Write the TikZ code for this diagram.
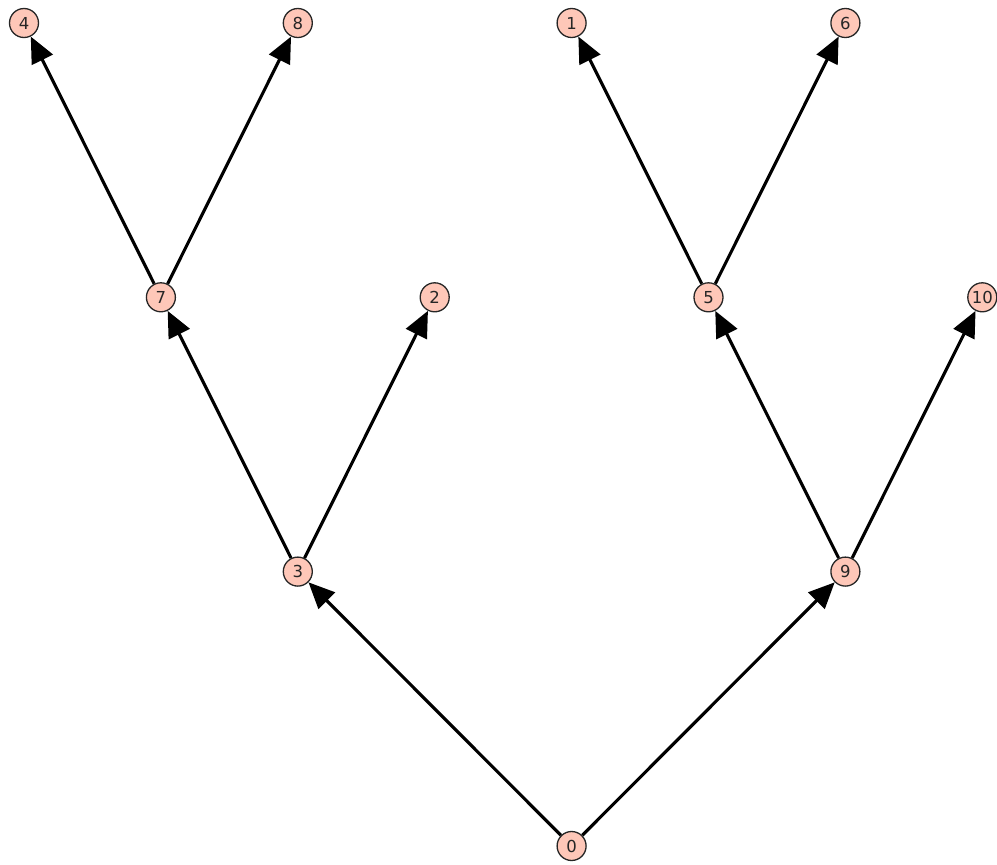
\documentclass[tikz,border=0pt]{standalone}
\usepackage{fontspec}
\setmainfont{DejaVu Sans}
\usetikzlibrary{arrows.meta}
\definecolor{vfill}{HTML}{FEC7B8}
\begin{document}
\begin{tikzpicture}[x=1pt,y=-1pt,
  vtx/.style={circle,draw=black!85,line width=1.3pt,fill=vfill,minimum size=29pt,inner sep=0pt,font=\fontsize{16.5}{16.5}\selectfont,text=black!85},
  edge/.style={line width=3.1pt,-{Triangle[length=26pt,width=23pt]}}]
\useasboundingbox (0,0) rectangle (997,865);
\def\dx{136.9}
\node[vtx] (n4)  at ({24+0*\dx},23) {4};
\node[vtx] (n8)  at ({24+2*\dx},23) {8};
\node[vtx] (n1)  at ({24+4*\dx},23) {1};
\node[vtx] (n6)  at ({24+6*\dx},23) {6};
\node[vtx] (n7)  at ({24+1*\dx},297.3) {7};
\node[vtx] (n2)  at ({24+3*\dx},297.3) {2};
\node[vtx] (n5)  at ({24+5*\dx},297.3) {5};
\node[vtx] (n10) at ({24+7*\dx},297.3) {10};
\node[vtx] (n3)  at ({24+2*\dx},571.6) {3};
\node[vtx] (n9)  at ({24+6*\dx},571.6) {9};
\node[vtx] (n0)  at ({24+4*\dx},846) {0};
\draw[edge] (n0) -- (n3);
\draw[edge] (n0) -- (n9);
\draw[edge] (n3) -- (n7);
\draw[edge] (n3) -- (n2);
\draw[edge] (n9) -- (n5);
\draw[edge] (n9) -- (n10);
\draw[edge] (n7) -- (n4);
\draw[edge] (n7) -- (n8);
\draw[edge] (n5) -- (n1);
\draw[edge] (n5) -- (n6);
\end{tikzpicture}
\end{document}
